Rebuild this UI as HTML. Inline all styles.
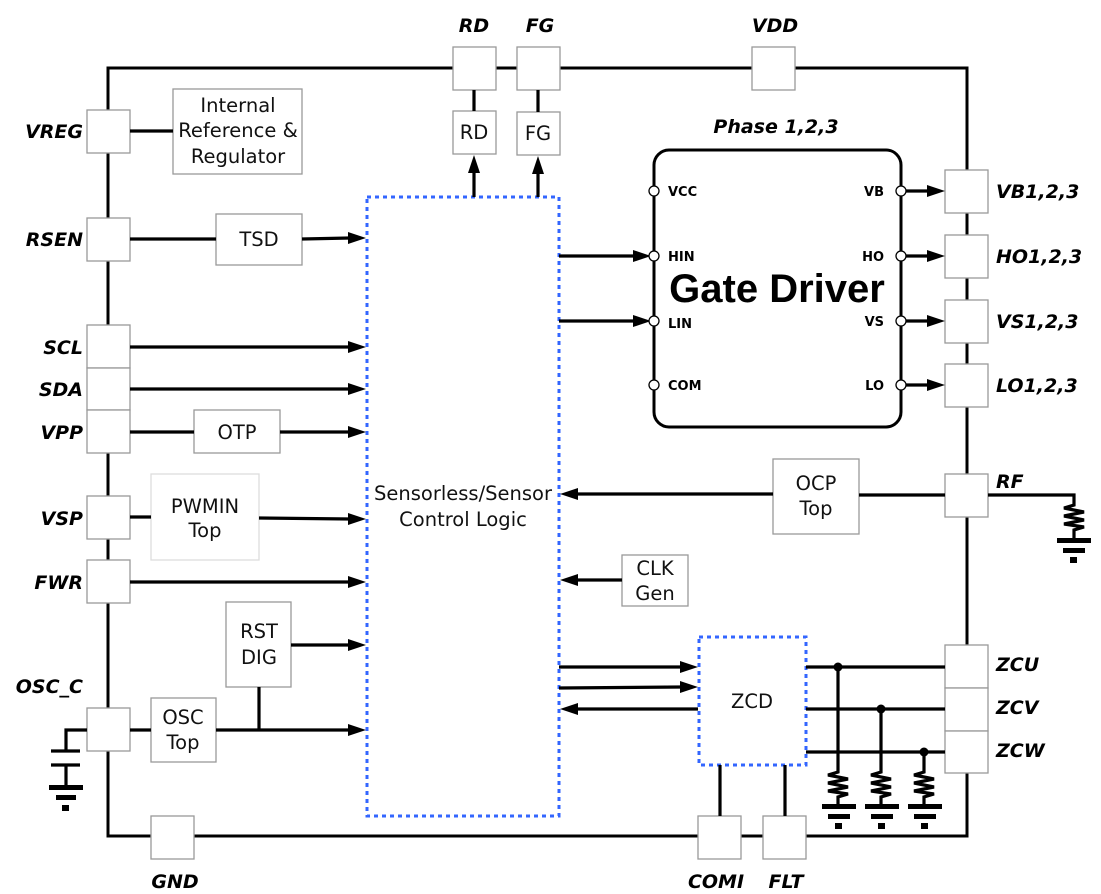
<!DOCTYPE html>
<html><head><meta charset="utf-8"><style>
html,body{margin:0;padding:0;background:#fff;}
svg{display:block;}
text{font-family:"DejaVu Sans","Liberation Sans",sans-serif;}
.lb{font-family:"DejaVu Sans","Liberation Sans",sans-serif;font-weight:bold;font-style:italic;font-size:19px;}
.bx{font-family:"Liberation Sans",sans-serif;font-size:19.5px;}
.gp{font-family:"DejaVu Sans","Liberation Sans",sans-serif;font-weight:bold;font-size:13px;}
</style></head><body>
<svg width="1101" height="894" viewBox="0 0 1101 894" xmlns="http://www.w3.org/2000/svg">
<g stroke="#000" stroke-width="3" fill="none">
<path d="M108,836 L108,68 L967,68 L967,836 Z"/>
</g>
<g fill="#fff" stroke="#999" stroke-width="1.3">
<rect x="453" y="47" width="43" height="43"/>
<rect x="517" y="47" width="43" height="43"/>
<rect x="752" y="47" width="43" height="43"/>
<rect x="87" y="110" width="43" height="43"/>
<rect x="87" y="218" width="43" height="43"/>
<rect x="87" y="325" width="43" height="43"/>
<rect x="87" y="368" width="43" height="42"/>
<rect x="87" y="410" width="43" height="43"/>
<rect x="87" y="496" width="43" height="43"/>
<rect x="87" y="560" width="43" height="43"/>
<rect x="87" y="708" width="43" height="43"/>
<rect x="151" y="816" width="43" height="43"/>
<rect x="698" y="816" width="43" height="43"/>
<rect x="763" y="816" width="43" height="43"/>
<rect x="945" y="170" width="43" height="43"/>
<rect x="945" y="235" width="43" height="43"/>
<rect x="945" y="300" width="43" height="43"/>
<rect x="945" y="364" width="43" height="43"/>
<rect x="945" y="474" width="43" height="43"/>
<rect x="945" y="645" width="43" height="43"/>
<rect x="945" y="688" width="43" height="43"/>
<rect x="945" y="731" width="43" height="42"/>
<rect x="173" y="89" width="129" height="85"/>
<rect x="453" y="111" width="43" height="43"/>
<rect x="517" y="112" width="43" height="43"/>
<rect x="216" y="214" width="86" height="51"/>
<rect x="194" y="410" width="86" height="43"/>
<rect x="151" y="474" width="108" height="86" stroke="#ddd"/>
<rect x="226" y="602" width="65" height="85"/>
<rect x="151" y="698" width="65" height="64"/>
<rect x="773" y="459" width="86" height="75"/>
<rect x="622" y="555" width="66" height="51"/>
</g>
<rect x="367" y="197" width="192" height="619" fill="none" stroke="#3366ff" stroke-width="3" stroke-dasharray="4,4"/>
<rect x="699" y="637" width="107" height="128" fill="none" stroke="#3366ff" stroke-width="3" stroke-dasharray="4,4"/>
<rect x="654" y="150" width="247" height="277" rx="15" fill="#fff" stroke="#000" stroke-width="3"/>
<g stroke="#000" stroke-width="3.2" fill="none">
<line x1="130" y1="131" x2="173" y2="131"/>
<line x1="474" y1="90" x2="474" y2="111"/>
<line x1="538" y1="90" x2="538" y2="112"/>
<line x1="474" y1="197" x2="474" y2="170"/>
<line x1="538" y1="197" x2="538" y2="170"/>
<line x1="130" y1="239" x2="216" y2="239"/>
<line x1="302" y1="239" x2="350" y2="238"/>
<line x1="130" y1="347" x2="350" y2="347"/>
<line x1="130" y1="389" x2="350" y2="389"/>
<line x1="130" y1="432" x2="194" y2="432"/>
<line x1="280" y1="432" x2="350" y2="432"/>
<line x1="130" y1="517" x2="151" y2="517"/>
<line x1="259" y1="518" x2="350" y2="519"/>
<line x1="130" y1="582" x2="350" y2="582"/>
<line x1="291" y1="645" x2="350" y2="645"/>
<line x1="130" y1="730" x2="151" y2="730"/>
<line x1="216" y1="730" x2="350" y2="730"/>
<line x1="259" y1="687" x2="259" y2="730"/>
<line x1="559" y1="256" x2="636" y2="256"/>
<line x1="559" y1="321" x2="636" y2="321"/>
<line x1="906" y1="191" x2="930" y2="191"/>
<line x1="906" y1="256" x2="930" y2="256"/>
<line x1="906" y1="321" x2="930" y2="321"/>
<line x1="906" y1="385" x2="930" y2="385"/>
<line x1="945" y1="495" x2="859" y2="495"/>
<line x1="773" y1="494" x2="575" y2="494"/>
<line x1="622" y1="580" x2="575" y2="580"/>
<line x1="559" y1="667" x2="682" y2="667"/>
<line x1="559" y1="688" x2="682" y2="687"/>
<line x1="698" y1="709" x2="575" y2="709"/>
<line x1="806" y1="667" x2="945" y2="667"/>
<line x1="806" y1="709" x2="945" y2="709"/>
<line x1="806" y1="752" x2="945" y2="752"/>
<line x1="720" y1="765" x2="720" y2="816"/>
<line x1="785" y1="765" x2="785" y2="816"/>
<path d="M988,495 L1074,495 L1074,505 L1064,508 L1084,512 L1064,516 L1084,520 L1064,524 L1084,527 L1074,530 L1074,540"/>
<path d="M838,667 L838,772 L828,775 L848,779 L828,783 L848,787 L828,791 L848,794 L838,797 L838,806"/>
<path d="M881,709 L881,772 L871,775 L891,779 L871,783 L891,787 L871,791 L891,794 L881,797 L881,806"/>
<path d="M924,752 L924,772 L914,775 L934,779 L914,783 L934,787 L914,791 L934,794 L924,797 L924,806"/>
<path d="M87,730 L66,730 L66,751 M66,765 L66,787"/>
<line x1="51" y1="751" x2="80" y2="751"/>
<line x1="51" y1="765" x2="80" y2="765"/>
</g>
<g fill="#000">
<polygon points="366,238 348,232 348,244"/>
<polygon points="366,347 348,341 348,353"/>
<polygon points="366,389 348,383 348,395"/>
<polygon points="366,432 348,426 348,438"/>
<polygon points="366,519 348,513 348,525"/>
<polygon points="366,582 348,576 348,588"/>
<polygon points="366,645 348,639 348,651"/>
<polygon points="366,730 348,724 348,736"/>
<polygon points="651,256 633,250 633,262"/>
<polygon points="651,321 633,315 633,327"/>
<polygon points="945,191 927,185 927,197"/>
<polygon points="945,256 927,250 927,262"/>
<polygon points="945,321 927,315 927,327"/>
<polygon points="945,385 927,379 927,391"/>
<polygon points="698,667 680,661 680,673"/>
<polygon points="698,687 680,681 680,693"/>
<polygon points="560,494 578,488 578,500"/>
<polygon points="560,580 578,574 578,586"/>
<polygon points="560,709 578,703 578,715"/>
<polygon points="474,155 468,173 480,173"/>
<polygon points="538,156 532,174 544,174"/>
<circle cx="838" cy="667" r="4.5"/><circle cx="881" cy="709" r="4.5"/><circle cx="924" cy="752" r="4.5"/>
<rect x="1057" y="538" width="34" height="5"/><rect x="1063" y="548" width="22" height="5"/><rect x="1070" y="557" width="7" height="6"/>
<rect x="822" y="804" width="34" height="5"/><rect x="828" y="814" width="22" height="5"/><rect x="835" y="823" width="7" height="6"/>
<rect x="865" y="804" width="34" height="5"/><rect x="871" y="814" width="22" height="5"/><rect x="878" y="823" width="7" height="6"/>
<rect x="908" y="804" width="34" height="5"/><rect x="914" y="814" width="22" height="5"/><rect x="921" y="823" width="7" height="6"/>
<rect x="49" y="785" width="34" height="5"/><rect x="56" y="795" width="20" height="5"/><rect x="62" y="805" width="7" height="6"/>
</g>
<g fill="#fff" stroke="#000" stroke-width="1.3">
<circle cx="654" cy="191" r="5"/><circle cx="654" cy="256" r="5"/><circle cx="654" cy="321" r="5"/><circle cx="654" cy="385" r="5"/>
<circle cx="901" cy="191" r="5"/><circle cx="901" cy="256" r="5"/><circle cx="901" cy="321" r="5"/><circle cx="901" cy="385" r="5"/>
</g>
<g class="gp">
<text x="668" y="196">VCC</text><text x="668" y="261">HIN</text><text x="668" y="328">LIN</text><text x="668" y="390">COM</text>
<text x="884" y="196" text-anchor="end">VB</text><text x="884" y="261" text-anchor="end">HO</text><text x="884" y="326" text-anchor="end">VS</text><text x="884" y="390" text-anchor="end">LO</text>
</g>
<text x="777" y="302" text-anchor="middle" font-weight="bold" font-size="40" style="font-family:'Liberation Sans',sans-serif">Gate Driver</text>
<text x="776" y="133" text-anchor="middle" class="lb" font-size="18">Phase 1,2,3</text>
<g class="bx" text-anchor="middle" fill="#111">
<text x="238" y="112">Internal</text><text x="238" y="137">Reference &amp;</text><text x="238" y="163">Regulator</text>
<text x="474" y="139">RD</text><text x="538" y="140">FG</text>
<text x="259" y="246">TSD</text>
<text x="237" y="439">OTP</text>
<text x="205" y="513">PWMIN</text><text x="205" y="537">Top</text>
<text x="259" y="638">RST</text><text x="259" y="664">DIG</text>
<text x="183" y="724">OSC</text><text x="183" y="749">Top</text>
<text x="463" y="500">Sensorless/Sensor</text><text x="463" y="526">Control Logic</text>
<text x="816" y="490">OCP</text><text x="816" y="515">Top</text>
<text x="655" y="575">CLK</text><text x="655" y="600">Gen</text>
<text x="752" y="708">ZCD</text>
</g>
<g class="lb">
<text x="474" y="32" text-anchor="middle">RD</text><text x="540" y="32" text-anchor="middle">FG</text><text x="775" y="32" text-anchor="middle">VDD</text>
<text x="83" y="138" text-anchor="end">VREG</text>
<text x="83" y="246" text-anchor="end">RSEN</text>
<text x="83" y="354" text-anchor="end">SCL</text>
<text x="83" y="396" text-anchor="end">SDA</text>
<text x="83" y="439" text-anchor="end">VPP</text>
<text x="83" y="525" text-anchor="end">VSP</text>
<text x="83" y="589" text-anchor="end">FWR</text>
<text x="83" y="693" text-anchor="end">OSC_C</text>
<text x="175" y="888" text-anchor="middle">GND</text>
<text x="716" y="888" text-anchor="middle">COMI</text>
<text x="786" y="888" text-anchor="middle">FLT</text>
<text x="996" y="198">VB1,2,3</text>
<text x="996" y="263">HO1,2,3</text>
<text x="996" y="328">VS1,2,3</text>
<text x="996" y="392">LO1,2,3</text>
<text x="996" y="488">RF</text>
<text x="996" y="671">ZCU</text>
<text x="996" y="714">ZCV</text>
<text x="996" y="757">ZCW</text>
</g>
</svg>
</body></html>
